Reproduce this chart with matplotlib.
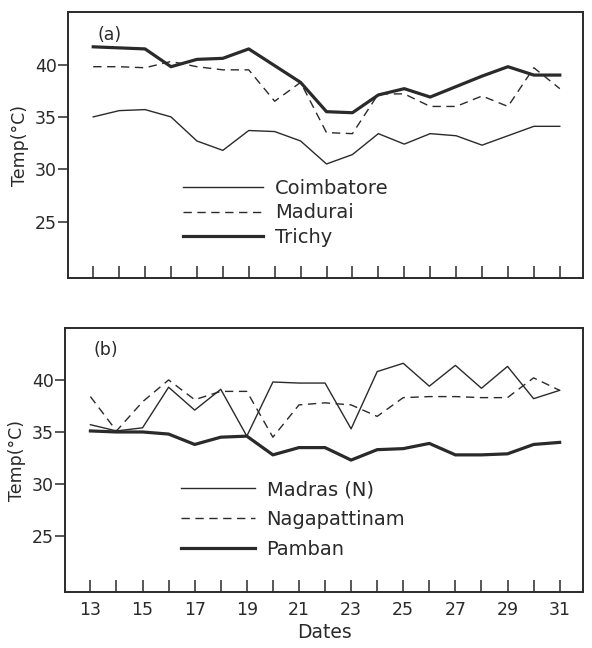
import matplotlib
matplotlib.use("Agg")
import matplotlib.pyplot as plt

dates = list(range(13, 32))

# panel (a)
coimbatore = [35.0, 35.6, 35.7, 35.0, 32.7, 31.8, 33.7, 33.6, 32.7, 30.5, 31.4,
              33.4, 32.4, 33.4, 33.2, 32.3, 33.2, 34.1, 34.1]
madurai = [39.8, 39.8, 39.7, 40.3, 39.8, 39.5, 39.5, 36.5, 38.3, 33.5, 33.4,
           37.2, 37.2, 36.0, 36.0, 37.0, 36.0, 39.7, 37.7]
trichy = [41.7, 41.6, 41.5, 39.8, 40.5, 40.6, 41.5, 39.9, 38.3, 35.5, 35.4,
          37.1, 37.7, 36.9, 37.9, 38.9, 39.8, 39.0, 39.0]

# panel (b)
madras = [35.7, 35.1, 35.4, 39.3, 37.1, 39.1, 34.6, 39.8, 39.7, 39.7, 35.3,
          40.8, 41.6, 39.4, 41.4, 39.2, 41.3, 38.2, 39.0]
nagapattinam = [38.4, 35.1, 37.9, 40.0, 38.1, 38.9, 38.9, 34.5, 37.6, 37.8, 37.6,
                36.5, 38.3, 38.4, 38.4, 38.3, 38.3, 40.2, 39.0]
pamban = [35.1, 35.0, 35.0, 34.8, 33.8, 34.5, 34.6, 32.8, 33.5, 33.5, 32.3,
          33.3, 33.4, 33.9, 32.8, 32.8, 32.9, 33.8, 34.0]

yticks = [25, 30, 35, 40]
xlabels = [13, 15, 17, 19, 21, 23, 25, 27, 29, 31]

ink = "#2a2a2a"
fig = plt.figure(figsize=(5.92, 6.48), dpi=100)
ax1 = fig.add_axes([0.115, 0.571, 0.87, 0.41])
ax2 = fig.add_axes([0.110, 0.086, 0.875, 0.408])

def style(ax, label, lx):
    ax.set_xlim(12.03, 31.9)
    ax.set_ylim(19.6, 45.0)
    ax.set_yticks(yticks)
    ax.set_xticks(dates)
    ax.tick_params(axis="y", direction="out", length=7, width=1.1,
                   labelsize=12.5, colors=ink, pad=1)
    ax.tick_params(axis="x", direction="in", length=9, width=1.1,
                   labelsize=12.5, colors=ink, pad=6)
    for s in ax.spines.values():
        s.set_linewidth(1.4)
        s.set_color(ink)
    ax.set_ylabel("Temp(°C)", fontsize=12.5, color=ink, labelpad=4)
    ax.text(lx, 0.95, label, transform=ax.transAxes, fontsize=12.5,
            color=ink, va="top")

ax1.plot(dates, coimbatore, color=ink, lw=1.0, label="Coimbatore")
ax1.plot(dates, madurai, color=ink, lw=1.0, ls=(0, (6, 4)), label="Madurai")
ax1.plot(dates, trichy, color=ink, lw=2.3, label="Trichy")
style(ax1, "(a)", 0.058)
ax1.set_xticklabels([])
ax1.legend(loc="upper left", bbox_to_anchor=(0.19, 0.44), frameon=False,
           fontsize=14, handlelength=4.1, handletextpad=0.6, labelspacing=0.3,
           labelcolor=ink)

ax2.plot(dates, madras, color=ink, lw=1.0, label="Madras (N)")
ax2.plot(dates, nagapattinam, color=ink, lw=1.0, ls=(0, (6, 4)), label="Nagapattinam")
ax2.plot(dates, pamban, color=ink, lw=2.3, label="Pamban")
style(ax2, "(b)", 0.054)
ax2.set_xticklabels([str(d) if d in xlabels else "" for d in dates])
ax2.set_xlabel("Dates", fontsize=13.5, color=ink, labelpad=3)
ax2.legend(loc="upper left", bbox_to_anchor=(0.19, 0.49), frameon=False,
           fontsize=14, handlelength=3.8, handletextpad=0.6, labelspacing=0.55,
           labelcolor=ink)

fig.savefig("out.png", dpi=100)
